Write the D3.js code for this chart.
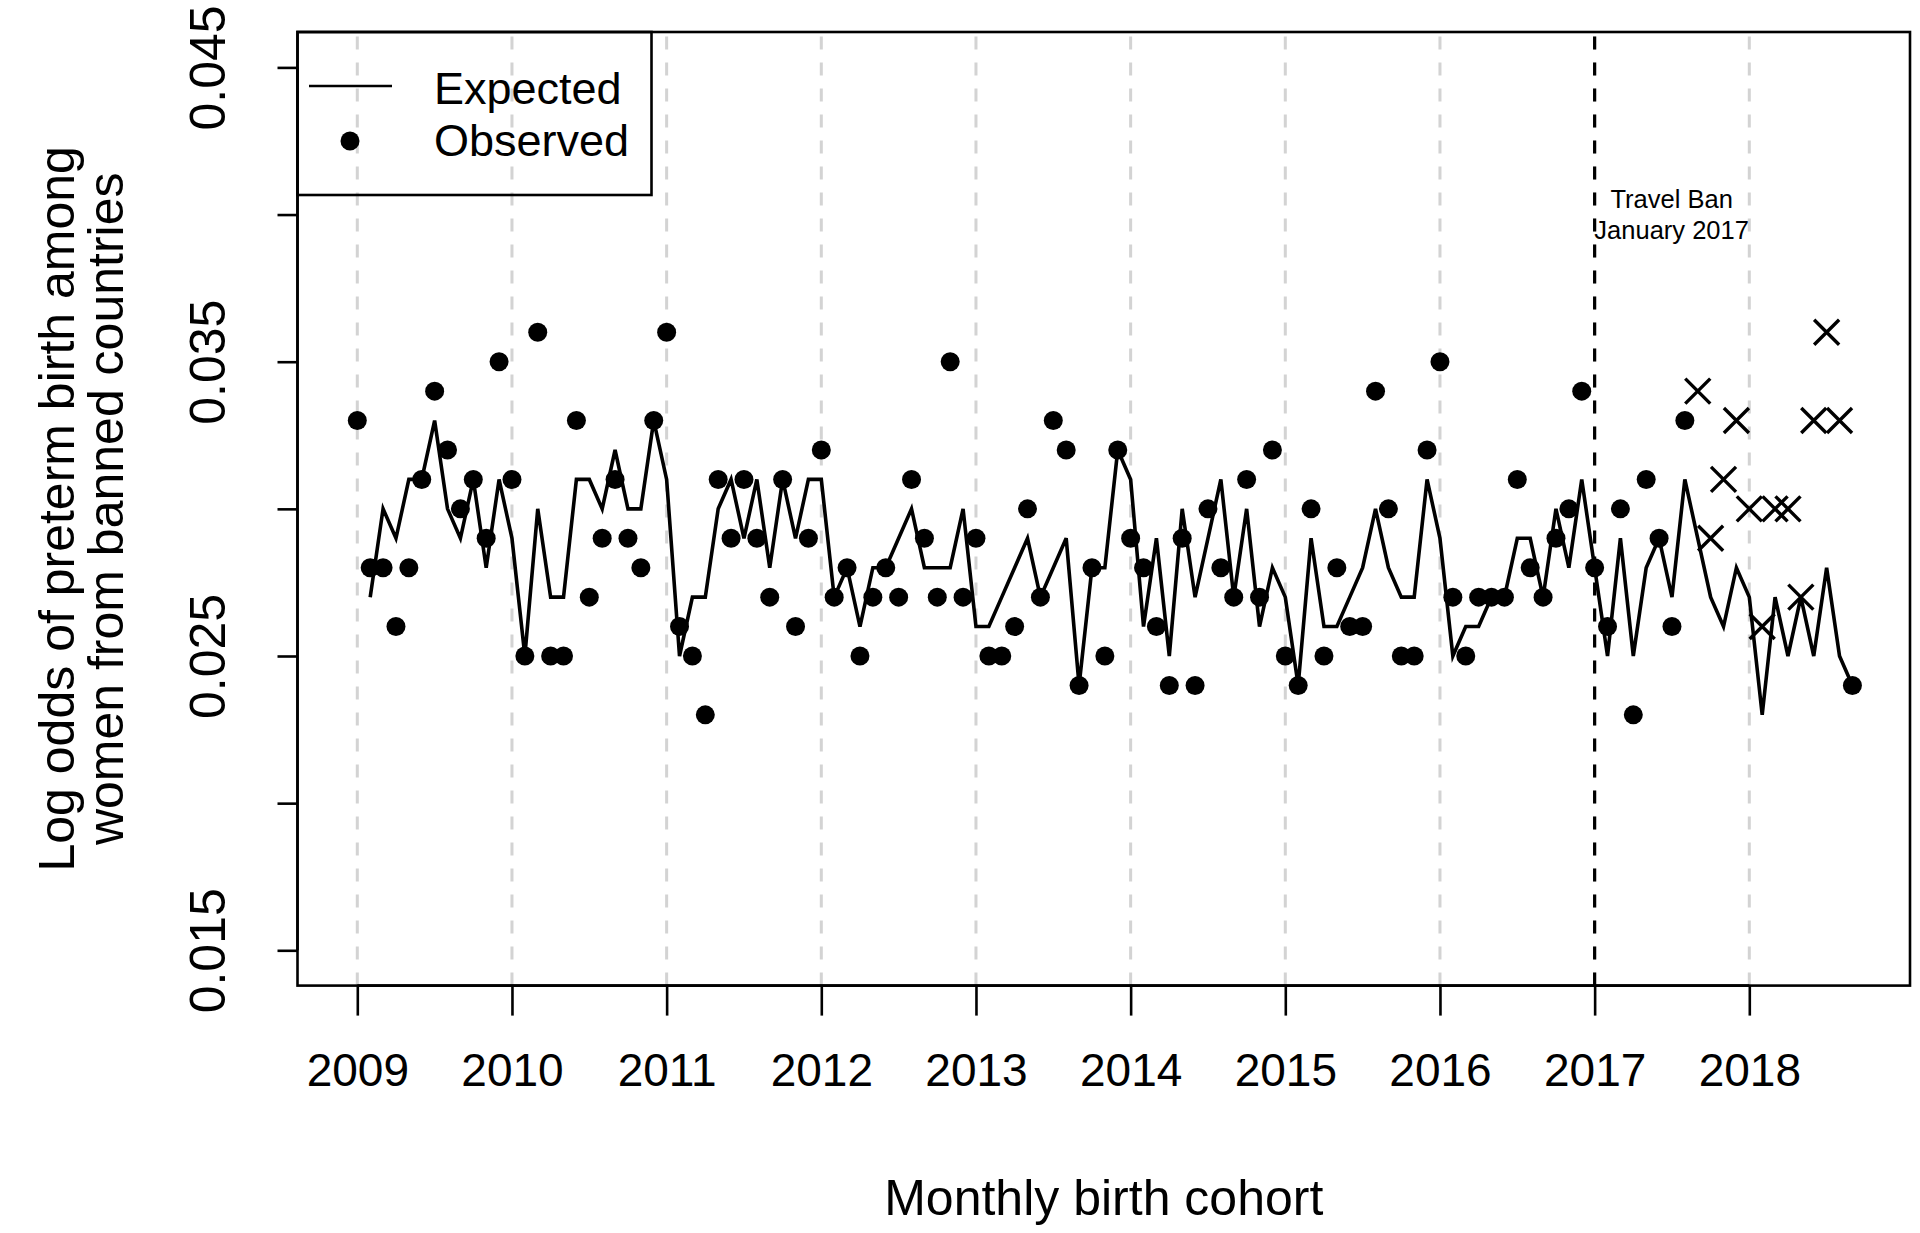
<!DOCTYPE html>
<html><head><meta charset="utf-8">
<script src="https://cdn.jsdelivr.net/npm/d3@7"></script>
<style>
body{margin:0;background:#fff}
svg{display:block}
text{font-family:"Liberation Sans",Arial,Helvetica,sans-serif;fill:#000}
</style>
</head><body>
<svg id="chart" width="1920" height="1233"></svg>
<script>
// ---------------- data ----------------
const startYear = 2009;               // first monthly cohort: January 2009
const xTickLabels = ["2009","2010","2011","2012","2013","2014","2015","2016","2017","2018"];
const yTickValues = [0.015,0.020,0.025,0.030,0.035,0.040,0.045];
const yTickLabels = ["0.015","","0.025","","0.035","","0.045"];
const legendLabels = ["Expected","Observed"];
const banYear = 2017;
const banLabel = ["Travel Ban","January 2017"];

// observed log odds, one value per month (Jan 2009 .. Sep 2018)
const observed = [
  0.033,0.028,0.028,0.026,0.028,0.031,0.034,0.032,0.030,0.031,0.029,0.035, // 2009
  0.031,0.025,0.036,0.025,0.025,0.033,0.027,0.029,0.031,0.029,0.028,0.033, // 2010
  0.036,0.026,0.025,0.023,0.031,0.029,0.031,0.029,0.027,0.031,0.026,0.029, // 2011
  0.032,0.027,0.028,0.025,0.027,0.028,0.027,0.031,0.029,0.027,0.035,0.027, // 2012
  0.029,0.025,0.025,0.026,0.030,0.027,0.033,0.032,0.024,0.028,0.025,0.032, // 2013
  0.029,0.028,0.026,0.024,0.029,0.024,0.030,0.028,0.027,0.031,0.027,0.032, // 2014
  0.025,0.024,0.030,0.025,0.028,0.026,0.026,0.034,0.030,0.025,0.025,0.032, // 2015
  0.035,0.027,0.025,0.027,0.027,0.027,0.031,0.028,0.027,0.029,0.030,0.034, // 2016
  0.028,0.026,0.030,0.023,0.031,0.029,0.026,0.033,0.034,0.029,0.031,0.033, // 2017
  0.030,0.026,0.030,0.030,0.027,0.033,0.036,0.033,0.024                    // 2018
];
// marker used for each observed month: "o" filled dot, "x" cross
const observedMarker = [
  "o","o","o","o","o","o","o","o","o","o","o","o",
  "o","o","o","o","o","o","o","o","o","o","o","o",
  "o","o","o","o","o","o","o","o","o","o","o","o",
  "o","o","o","o","o","o","o","o","o","o","o","o",
  "o","o","o","o","o","o","o","o","o","o","o","o",
  "o","o","o","o","o","o","o","o","o","o","o","o",
  "o","o","o","o","o","o","o","o","o","o","o","o",
  "o","o","o","o","o","o","o","o","o","o","o","o",
  "o","o","o","o","o","o","o","o","x","x","x","x",
  "x","x","x","x","x","x","x","x","o"
];
// expected log odds (line), starts February 2009
const expected = [
  null, 0.027,0.030,0.029,0.031,0.031,0.033,0.030,0.029,0.031,0.028,0.031, // 2009
  0.029,0.025,0.030,0.027,0.027,0.031,0.031,0.030,0.032,0.030,0.030,0.033, // 2010
  0.031,0.025,0.027,0.027,0.030,0.031,0.029,0.031,0.028,0.031,0.029,0.031, // 2011
  0.031,0.027,0.028,0.026,0.028,0.028,0.029,0.030,0.028,0.028,0.028,0.030, // 2012
  0.026,0.026,0.027,0.028,0.029,0.027,0.028,0.029,0.024,0.028,0.028,0.032, // 2013
  0.031,0.026,0.029,0.025,0.030,0.027,0.029,0.031,0.027,0.030,0.026,0.028, // 2014
  0.027,0.024,0.029,0.026,0.026,0.027,0.028,0.030,0.028,0.027,0.027,0.031, // 2015
  0.029,0.025,0.026,0.026,0.027,0.027,0.029,0.029,0.027,0.030,0.028,0.031, // 2016
  0.028,0.025,0.029,0.025,0.028,0.029,0.027,0.031,0.029,0.027,0.026,0.028, // 2017
  0.027,0.023,0.027,0.025,0.027,0.025,0.028,0.025,0.024                    // 2018
];

// ---------------- layout ----------------
const box = {left:297.5, right:1910, top:32, bottom:985.6};
const svg = d3.select("#chart");
const t = i => startYear + i/12;

const x = d3.scaleLinear().domain([2009, 2018]).range([357.3, 1749.3]);
const y = d3.scaleLinear().domain([0.025, 0.035]).range([656, 361.7]);

// year grid lines (light grey dashed)
svg.append("g").selectAll("line").data(xTickLabels.map(Number)).join("line")
  .attr("x1", d => x(d)).attr("x2", d => x(d))
  .attr("y1", box.bottom).attr("y2", box.top)
  .attr("stroke", "#d3d3d3").attr("stroke-width", 3)
  .attr("stroke-dasharray", "13,13");

// travel ban line
svg.append("line")
  .attr("x1", x(banYear)).attr("x2", x(banYear))
  .attr("y1", box.bottom).attr("y2", box.top)
  .attr("stroke", "#000").attr("stroke-width", 3.2)
  .attr("stroke-dasharray", "13,13");

svg.append("g").selectAll("text").data(banLabel).join("text")
  .attr("x", x(banYear) + 77).attr("y", (d,i) => 208 + i*31)
  .attr("text-anchor", "middle").attr("font-size", 25.5)
  .text(d => d);

// expected line
const line = d3.line()
  .defined(d => d != null)
  .x((d,i) => x(t(i))).y(d => y(d));
svg.append("path").datum(expected)
  .attr("d", line)
  .attr("fill", "none").attr("stroke", "#000").attr("stroke-width", 3.6)
  .attr("stroke-linejoin", "miter");

// observed points
const obs = observed.map((v,i) => ({v, i, m: observedMarker[i]}));
svg.append("g").selectAll("circle").data(obs.filter(d => d.m === "o")).join("circle")
  .attr("cx", d => x(t(d.i))).attr("cy", d => y(d.v)).attr("r", 9.5)
  .attr("fill", "#000");
const cs = 12.5;
svg.append("g").selectAll("path").data(obs.filter(d => d.m === "x")).join("path")
  .attr("d", d => {
    const cx = x(t(d.i)), cy = y(d.v);
    return `M${cx-cs},${cy-cs}L${cx+cs},${cy+cs}M${cx-cs},${cy+cs}L${cx+cs},${cy-cs}`;
  })
  .attr("stroke", "#000").attr("stroke-width", 3.4).attr("fill", "none");

// plot box
svg.append("rect")
  .attr("x", box.left).attr("y", box.top)
  .attr("width", box.right - box.left).attr("height", box.bottom - box.top)
  .attr("fill", "none").attr("stroke", "#000").attr("stroke-width", 2.6);

// x axis
const xAxis = d3.axisBottom(x).tickValues(xTickLabels.map(Number))
  .tickFormat((d,i) => xTickLabels[i]).tickSize(30).tickPadding(38);
const gx = svg.append("g").attr("transform", `translate(0,${box.bottom})`).call(xAxis);
gx.select(".domain").attr("stroke-width", 2.6).attr("d", `M${x(2009)},0H${x(2018)}`);
gx.selectAll(".tick line").attr("stroke-width", 2.6);
gx.selectAll(".tick text").attr("font-size", 46).attr("font-family", '"Liberation Sans",Arial,sans-serif').attr("fill","#000");

// y axis
const yAxis = d3.axisLeft(y).tickValues(yTickValues)
  .tickFormat((d,i) => yTickLabels[i]).tickSize(20).tickPadding(0);
const gy = svg.append("g").attr("transform", `translate(${box.left},0)`).call(yAxis);
gy.select(".domain").attr("stroke-width", 2.6).attr("d", `M0,${y(0.015)}V${y(0.045)}`);
gy.selectAll(".tick line").attr("stroke-width", 2.6);
gy.selectAll(".tick text")
  .attr("font-size", 50).attr("font-family", '"Liberation Sans",Arial,sans-serif').attr("fill","#000")
  .attr("x", null).attr("dy", null)
  .attr("text-anchor", "middle")
  .attr("transform", "translate(-73,0) rotate(-90)");

// axis titles
svg.append("text").attr("x", (box.left + box.right)/2).attr("y", 1215)
  .attr("text-anchor", "middle").attr("font-size", 50).text("Monthly birth cohort");
const yTitle = ["Log odds of preterm birth among","women from banned countries"];
svg.append("g").selectAll("text").data(yTitle).join("text")
  .attr("transform", (d,i) => `translate(${74 + i*49},${(box.top+box.bottom)/2}) rotate(-90)`)
  .attr("text-anchor", "middle").attr("font-size", 50).text(d => d);

// legend
const lg = svg.append("g");
lg.append("rect").attr("x", box.left).attr("y", box.top)
  .attr("width", 354).attr("height", 163)
  .attr("fill", "none").attr("stroke", "#000").attr("stroke-width", 2.6);
lg.append("line").attr("x1", 309).attr("x2", 392).attr("y1", 86).attr("y2", 86)
  .attr("stroke", "#000").attr("stroke-width", 2.6);
lg.append("circle").attr("cx", 350).attr("cy", 141).attr("r", 9.5).attr("fill", "#000");
lg.selectAll("text.lbl").data(legendLabels).join("text").attr("class","lbl")
  .attr("x", 434).attr("y", (d,i) => 104 + i*52)
  .attr("font-size", 45).text(d => d);
</script>
</body></html>
